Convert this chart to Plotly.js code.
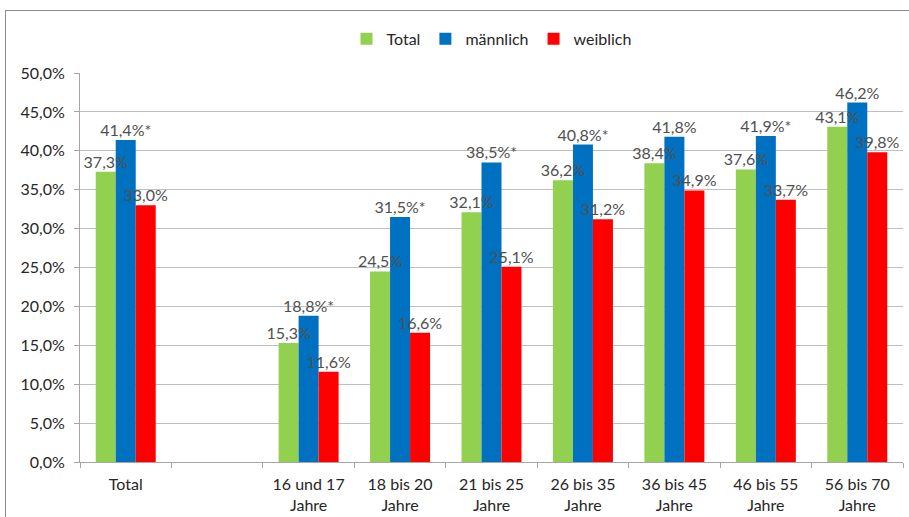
<!DOCTYPE html>
<html>
<head>
<meta charset="utf-8">
<script src="https://cdn.plot.ly/plotly-3.0.1.min.js"></script>
<style>
  body { margin: 0; background: #fff; overflow: hidden; }
  #frame { position: absolute; left: 5px; top: 10px; width: 1000px; height: 1000px; border: 1.5px solid #8c8c8c; }
  #chart { position: absolute; left: 0; top: 0; width: 909px; height: 517px; }
</style>
</head>
<body>
<div id="frame"></div>
<div id="chart"></div>
<script>
const categories = ['Total', ' ', '16 und 17<br>Jahre', '18 bis 20<br>Jahre', '21 bis 25<br>Jahre', '26 bis 35<br>Jahre', '36 bis 45<br>Jahre', '46 bis 55<br>Jahre', '56 bis 70<br>Jahre'];
const totalValues = [37.3, null, 15.3, 24.5, 32.1, 36.2, 38.4, 37.6, 43.1];
const maennlichValues = [41.4, null, 18.8, 31.5, 38.5, 40.8, 41.8, 41.9, 46.2];
const weiblichValues = [33.0, null, 11.6, 16.6, 25.1, 31.2, 34.9, 33.7, 39.8];
const maennlichStars = ['*', '', '*', '*', '*', '*', '', '*', ''];
const yTicks = [0, 5, 10, 15, 20, 25, 30, 35, 40, 45, 50];

function fmt(v, s) {
  if (v === null) return '';
  return v.toFixed(1).replace('.', ',') + '%' + (s || '');
}

const labelFont = { family: 'Lato, "Open Sans", sans-serif', size: 16, color: '#505050' };
const GAP = 0.344;

function bar(name, vals, color, grp) {
  return {
    type: 'bar', name: name, x: categories, y: vals,
    marker: { color: color }, offsetgroup: grp, hoverinfo: 'skip'
  };
}
function labels(vals, stars, grp) {
  return {
    type: 'scatter', mode: 'text', x: categories, y: vals,
    text: vals.map((v, i) => fmt(v, stars ? stars[i] : '')),
    textposition: 'top center', textfont: labelFont,
    offsetgroup: grp, showlegend: false, cliponaxis: false, hoverinfo: 'skip'
  };
}

const data = [
  bar('Total', totalValues, '#92D050', 'a'),
  bar('männlich', maennlichValues, '#0070C0', 'b'),
  bar('weiblich', weiblichValues, '#FF0000', 'c'),
  labels(totalValues, null, 'a'),
  labels(maennlichValues, maennlichStars, 'b'),
  labels(weiblichValues, null, 'c')
];

const layout = {
  width: 909, height: 517,
  margin: { l: 80, r: 6, t: 73, b: 55 },
  paper_bgcolor: 'rgba(0,0,0,0)', plot_bgcolor: 'rgba(0,0,0,0)',
  barmode: 'group', bargap: GAP, bargroupgap: 0,
  scattermode: 'group', scattergap: GAP,
  separators: ',.',
  font: { family: 'Lato, "Open Sans", sans-serif', size: 16, color: '#262626' },
  showlegend: true,
  legend: { orientation: 'h', x: 0.5, xanchor: 'center', y: 1.088, yanchor: 'middle',
            font: { size: 16, color: '#262626' }, itemwidth: 30, traceorder: 'normal' },
  xaxis: {
    type: 'category', showline: true, linecolor: '#a6a6a6', linewidth: 1,
    ticks: 'outside', tickson: 'boundaries', ticklen: 5, tickcolor: '#a6a6a6',
    tickfont: { size: 16, color: '#262626' }, showgrid: false, fixedrange: true,
    ticklabelstandoff: 8
  },
  yaxis: {
    range: [0, 50], tickvals: yTicks, ticktext: yTicks.map(v => v.toFixed(1).replace('.', ',') + '%'),
    showgrid: true, gridcolor: '#bfbfbf', gridwidth: 1,
    showline: true, linecolor: '#a6a6a6', ticks: 'outside', ticklen: 5, tickcolor: '#a6a6a6',
    tickfont: { size: 16, color: '#262626' }, zeroline: false, fixedrange: true,
    ticklabelstandoff: 6
  }
};

Plotly.newPlot('chart', data, layout, { displayModeBar: false, staticPlot: true });
</script>
</body>
</html>
